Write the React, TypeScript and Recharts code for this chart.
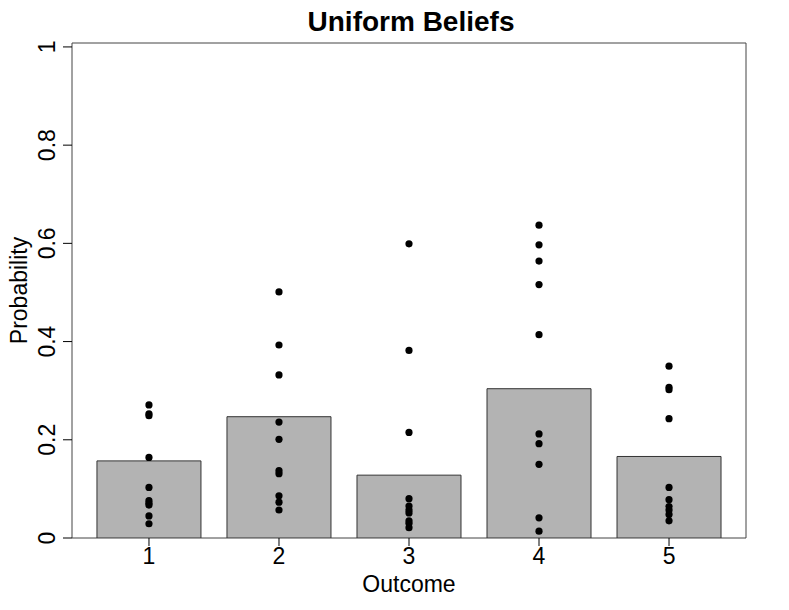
import React from 'react';
import {
    ComposedChart,
    Bar,
    Scatter,
    XAxis,
    YAxis,
    ReferenceArea,
    Label,
} from 'recharts';

// outcomes on the x axis and the mean belief drawn as bars
const outcomes = [1, 2, 3, 4, 5];
const barHeights = [0.157, 0.247, 0.128, 0.304, 0.166];

// individual beliefs (dots), one array per outcome
const beliefsOutcome1 = [0.271, 0.253, 0.249, 0.164, 0.103, 0.076, 0.071, 0.067, 0.045, 0.029];
const beliefsOutcome2 = [0.501, 0.393, 0.332, 0.236, 0.201, 0.137, 0.131, 0.086, 0.073, 0.057];
const beliefsOutcome3 = [0.599, 0.382, 0.215, 0.080, 0.065, 0.057, 0.051, 0.035, 0.030, 0.021];
const beliefsOutcome4 = [0.637, 0.597, 0.564, 0.516, 0.414, 0.212, 0.192, 0.150, 0.041, 0.014];
const beliefsOutcome5 = [0.350, 0.307, 0.302, 0.243, 0.103, 0.078, 0.064, 0.057, 0.048, 0.035];

const yTicks = [0, 0.2, 0.4, 0.6, 0.8, 1];

const barData = outcomes.map((x, i) => ({ x, p: barHeights[i] }));
const pointData = [beliefsOutcome1, beliefsOutcome2, beliefsOutcome3, beliefsOutcome4, beliefsOutcome5]
    .flatMap((vals, i) => vals.map((y) => ({ x: outcomes[i], y })));

const FONT = '"Liberation Sans", Arial, Helvetica, sans-serif';

const YTick = ({ x, y, payload }: any) => (
    <text
        x={x}
        y={y}
        transform={`rotate(-90, ${x}, ${y})`}
        textAnchor="middle"
        fontSize={23}
        fontFamily={FONT}
        fill="#000"
    >
        {String(payload.value)}
    </text>
);

const XTick = ({ x, y, payload }: any) => (
    <text x={x} y={y + 16} textAnchor="middle" fontSize={23} fontFamily={FONT} fill="#000">
        {payload.value}
    </text>
);

const Dot = (props: any) => <circle cx={props.cx} cy={props.cy} r={3.6} fill="#000" />;

export default function App() {
    return (
        <div style={{ position: 'absolute', left: 0, top: 0, width: 789, height: 610, background: '#fff' }}>
            <div
                style={{
                    position: 'absolute',
                    left: 72,
                    top: 8,
                    width: 678,
                    textAlign: 'center',
                    fontFamily: FONT,
                    fontWeight: 700,
                    fontSize: 28,
                    lineHeight: '28px',
                }}
            >
                Uniform Beliefs
            </div>
            <ComposedChart
                width={789}
                height={610}
                data={barData}
                margin={{ top: 43, right: 43, bottom: 0, left: 0 }}
            >
                <XAxis
                    type="number"
                    dataKey="x"
                    domain={[0.408, 5.592]}
                    ticks={outcomes}
                    allowDataOverflow
                    axisLine={false}
                    tickSize={8}
                    tickMargin={2}
                    tickLine={{ stroke: '#000' }}
                    tick={<XTick />}
                    height={72}
                >
                    <Label
                        content={({ viewBox }: any) => (
                            <text
                                x={viewBox.x + viewBox.width / 2}
                                y={viewBox.y + 54}
                                textAnchor="middle"
                                fontSize={23}
                                fontFamily={FONT}
                                fill="#000"
                            >
                                Outcome
                            </text>
                        )}
                    />
                </XAxis>
                <YAxis
                    type="number"
                    domain={[0, 1.008]}
                    ticks={yTicks}
                    allowDataOverflow
                    axisLine={false}
                    tickSize={9}
                    tickMargin={8}
                    tickLine={{ stroke: '#000' }}
                    tick={<YTick />}
                    width={72}
                >
                    <Label
                        content={({ viewBox }: any) => {
                            const cy = viewBox.y + viewBox.height / 2;
                            return (
                                <text
                                    x={27}
                                    y={cy}
                                    transform={`rotate(-90, 27, ${cy})`}
                                    textAnchor="middle"
                                    fontSize={23}
                                    fontFamily={FONT}
                                    fill="#000"
                                >
                                    Probability
                                </text>
                            );
                        }}
                    />
                </YAxis>
                <Bar
                    dataKey="p"
                    barSize={104}
                    fill="#b3b3b3"
                    stroke="#333"
                    strokeWidth={1}
                    isAnimationActive={false}
                />
                <Scatter data={pointData} dataKey="y" shape={<Dot />} isAnimationActive={false} />
                <ReferenceArea
                    x1={0.408}
                    x2={5.592}
                    y1={0}
                    y2={1.008}
                    fill="none"
                    fillOpacity={0}
                    stroke="#444"
                    strokeWidth={1}
                    ifOverflow="visible"
                />
            </ComposedChart>
        </div>
    );
}
